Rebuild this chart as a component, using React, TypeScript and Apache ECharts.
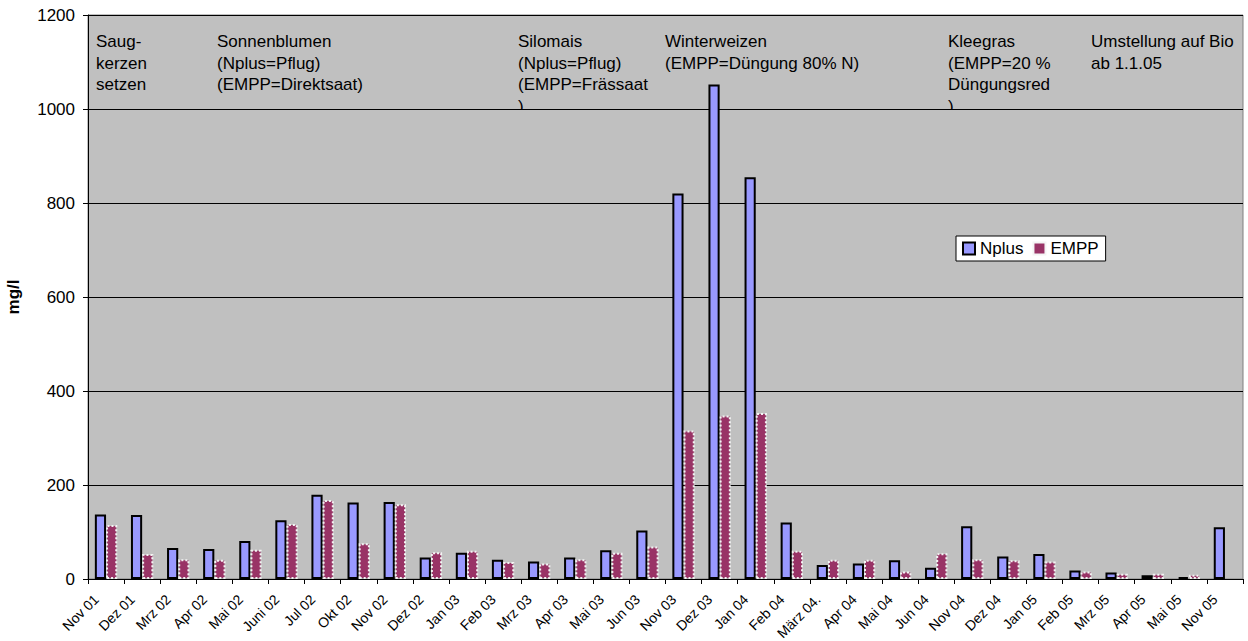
import React, { useEffect, useRef } from "react";
import * as echarts from "echarts";

// Sampling dates (Sickerwasser-Probenahmen)
const categories = [
  "Nov 01", "Dez 01", "Mrz 02", "Apr 02", "Mai 02", "Juni 02", "Jul 02", "Okt 02",
  "Nov 02", "Dez 02", "Jan 03", "Feb 03", "Mrz 03", "Apr 03", "Mai 03", "Jun 03",
  "Nov 03", "Dez 03", "Jan 04", "Feb 04", "März 04.", "Apr 04", "Mai 04", "Jun 04",
  "Nov 04", "Dez 04", "Jan 05", "Feb 05", "Mrz 05", "Apr 05", "Mai 05", "Nov 05",
];

// Nitrate concentration, mg/l
const nplus = [
  137, 136, 66, 64, 81, 125, 179, 163,
  164, 46, 56, 41, 37, 46, 61, 103,
  820, 1052, 855, 120, 30, 33, 40, 24,
  112, 48, 53, 18, 14, 8, 4, 110,
];
const empp: (number | null)[] = [
  115, 53, 42, 41, 62, 117, 168, 76,
  159, 57, 60, 36, 33, 42, 56, 69,
  316, 348, 353, 60, 41, 41, 16, 55,
  42, 40, 37, 16, 11, 11, 9, null,
];

const yTicks = { min: 0, max: 1200, step: 200 };

// Crop rotation notes written into the plot area
const notes: { x: number; lines: string[] }[] = [
  { x: 96, lines: ["Saug-", "kerzen", "setzen"] },
  { x: 217, lines: ["Sonnenblumen", "(Nplus=Pflug)", "(EMPP=Direktsaat)"] },
  { x: 518, lines: ["Silomais", "(Nplus=Pflug)", "(EMPP=Frässaat", ")"] },
  { x: 665, lines: ["Winterweizen", "(EMPP=Düngung 80% N)"] },
  { x: 948, lines: ["Kleegras", "(EMPP=20 %", "Düngungsred", ")"] },
  { x: 1091, lines: ["Umstellung auf Bio", "ab 1.1.05"] },
];

const FONT = '"Liberation Sans", Arial, Helvetica, sans-serif';

export default function App() {
  const ref = useRef<HTMLDivElement>(null);

  useEffect(() => {
    if (!ref.current) return;
    const chart = echarts.init(ref.current, undefined, { renderer: "svg" });

    const graphic: any[] = [];
    notes.forEach((n) => {
      graphic.push({
        type: "text",
        x: n.x,
        y: 31,
        z: 10,
        style: {
          text: n.lines.join("\n"),
          font: `17px ${FONT}`,
          fill: "#000",
          lineHeight: 21.5,
        },
      });
      // text boxes end at the 1000 gridline; hide the overflowing last line
      if (n.lines.length > 3) {
        graphic.push({
          type: "rect",
          z: 11,
          shape: { x: n.x - 2, y: 110, width: 20, height: 14 },
          style: { fill: "#C0C0C0" },
        });
      }
    });

    chart.setOption({
      animation: false,
      backgroundColor: "#ffffff",
      textStyle: { fontFamily: FONT, color: "#000" },
      grid: {
        left: 88,
        right: 5,
        top: 15,
        bottom: 62,
        outerBoundsMode: "none",
        containLabel: false,
        show: true,
        backgroundColor: "#C0C0C0",
        borderColor: "#808080",
        borderWidth: 1,
      },
      legend: {
        left: 956,
        top: 236,
        data: ["Nplus", "EMPP"],
        backgroundColor: "#ffffff",
        borderColor: "#000000",
        borderWidth: 1,
        borderRadius: 0,
        padding: [4, 7, 4, 6],
        itemGap: 9,
        itemWidth: 12,
        itemHeight: 12,
        icon: "rect",
        textStyle: { fontSize: 17, color: "#000", fontFamily: FONT },
      },
      xAxis: {
        type: "category",
        data: categories,
        boundaryGap: true,
        axisLine: { lineStyle: { color: "#000", width: 1 } },
        axisTick: { show: true, length: 5, interval: 0, lineStyle: { color: "#000" } },
        axisLabel: {
          interval: 0,
          rotate: 45,
          fontSize: 14,
          margin: 8,
          padding: [0, 14, 0, 0],
          color: "#000",
          fontFamily: FONT,
        },
        splitLine: { show: false },
      },
      yAxis: {
        type: "value",
        min: yTicks.min,
        max: yTicks.max,
        interval: yTicks.step,
        name: "mg/l",
        nameLocation: "middle",
        nameGap: 66,
        nameTextStyle: { fontSize: 17, fontWeight: "bold", color: "#000", fontFamily: FONT },
        axisLine: { show: true, lineStyle: { color: "#000", width: 1 } },
        axisTick: { show: true, length: 5, lineStyle: { color: "#000" } },
        axisLabel: {
          fontSize: 17,
          margin: 13,
          color: "#000",
          fontFamily: FONT,
          formatter: (v: number) => String(v),
        },
        splitLine: { show: true, lineStyle: { color: "#000", width: 1 } },
      },
      series: [
        {
          name: "Nplus",
          type: "bar",
          data: nplus,
          barGap: "0%",
          barCategoryGap: "38%",
          itemStyle: { color: "#9999FF", borderColor: "#000000", borderWidth: 2 },
        },
        {
          name: "EMPP",
          type: "bar",
          data: empp,
          barGap: "0%",
          barCategoryGap: "38%",
          itemStyle: {
            color: "#993366",
            borderColor: "#f4f4f4",
            borderWidth: 2,
            borderType: "dotted",
          },
        },
      ],
      graphic,
    });

    return () => chart.dispose();
  }, []);

  return (
    <div
      ref={ref}
      style={{ position: "fixed", left: 0, top: 0, width: 1248, height: 641 }}
    />
  );
}
